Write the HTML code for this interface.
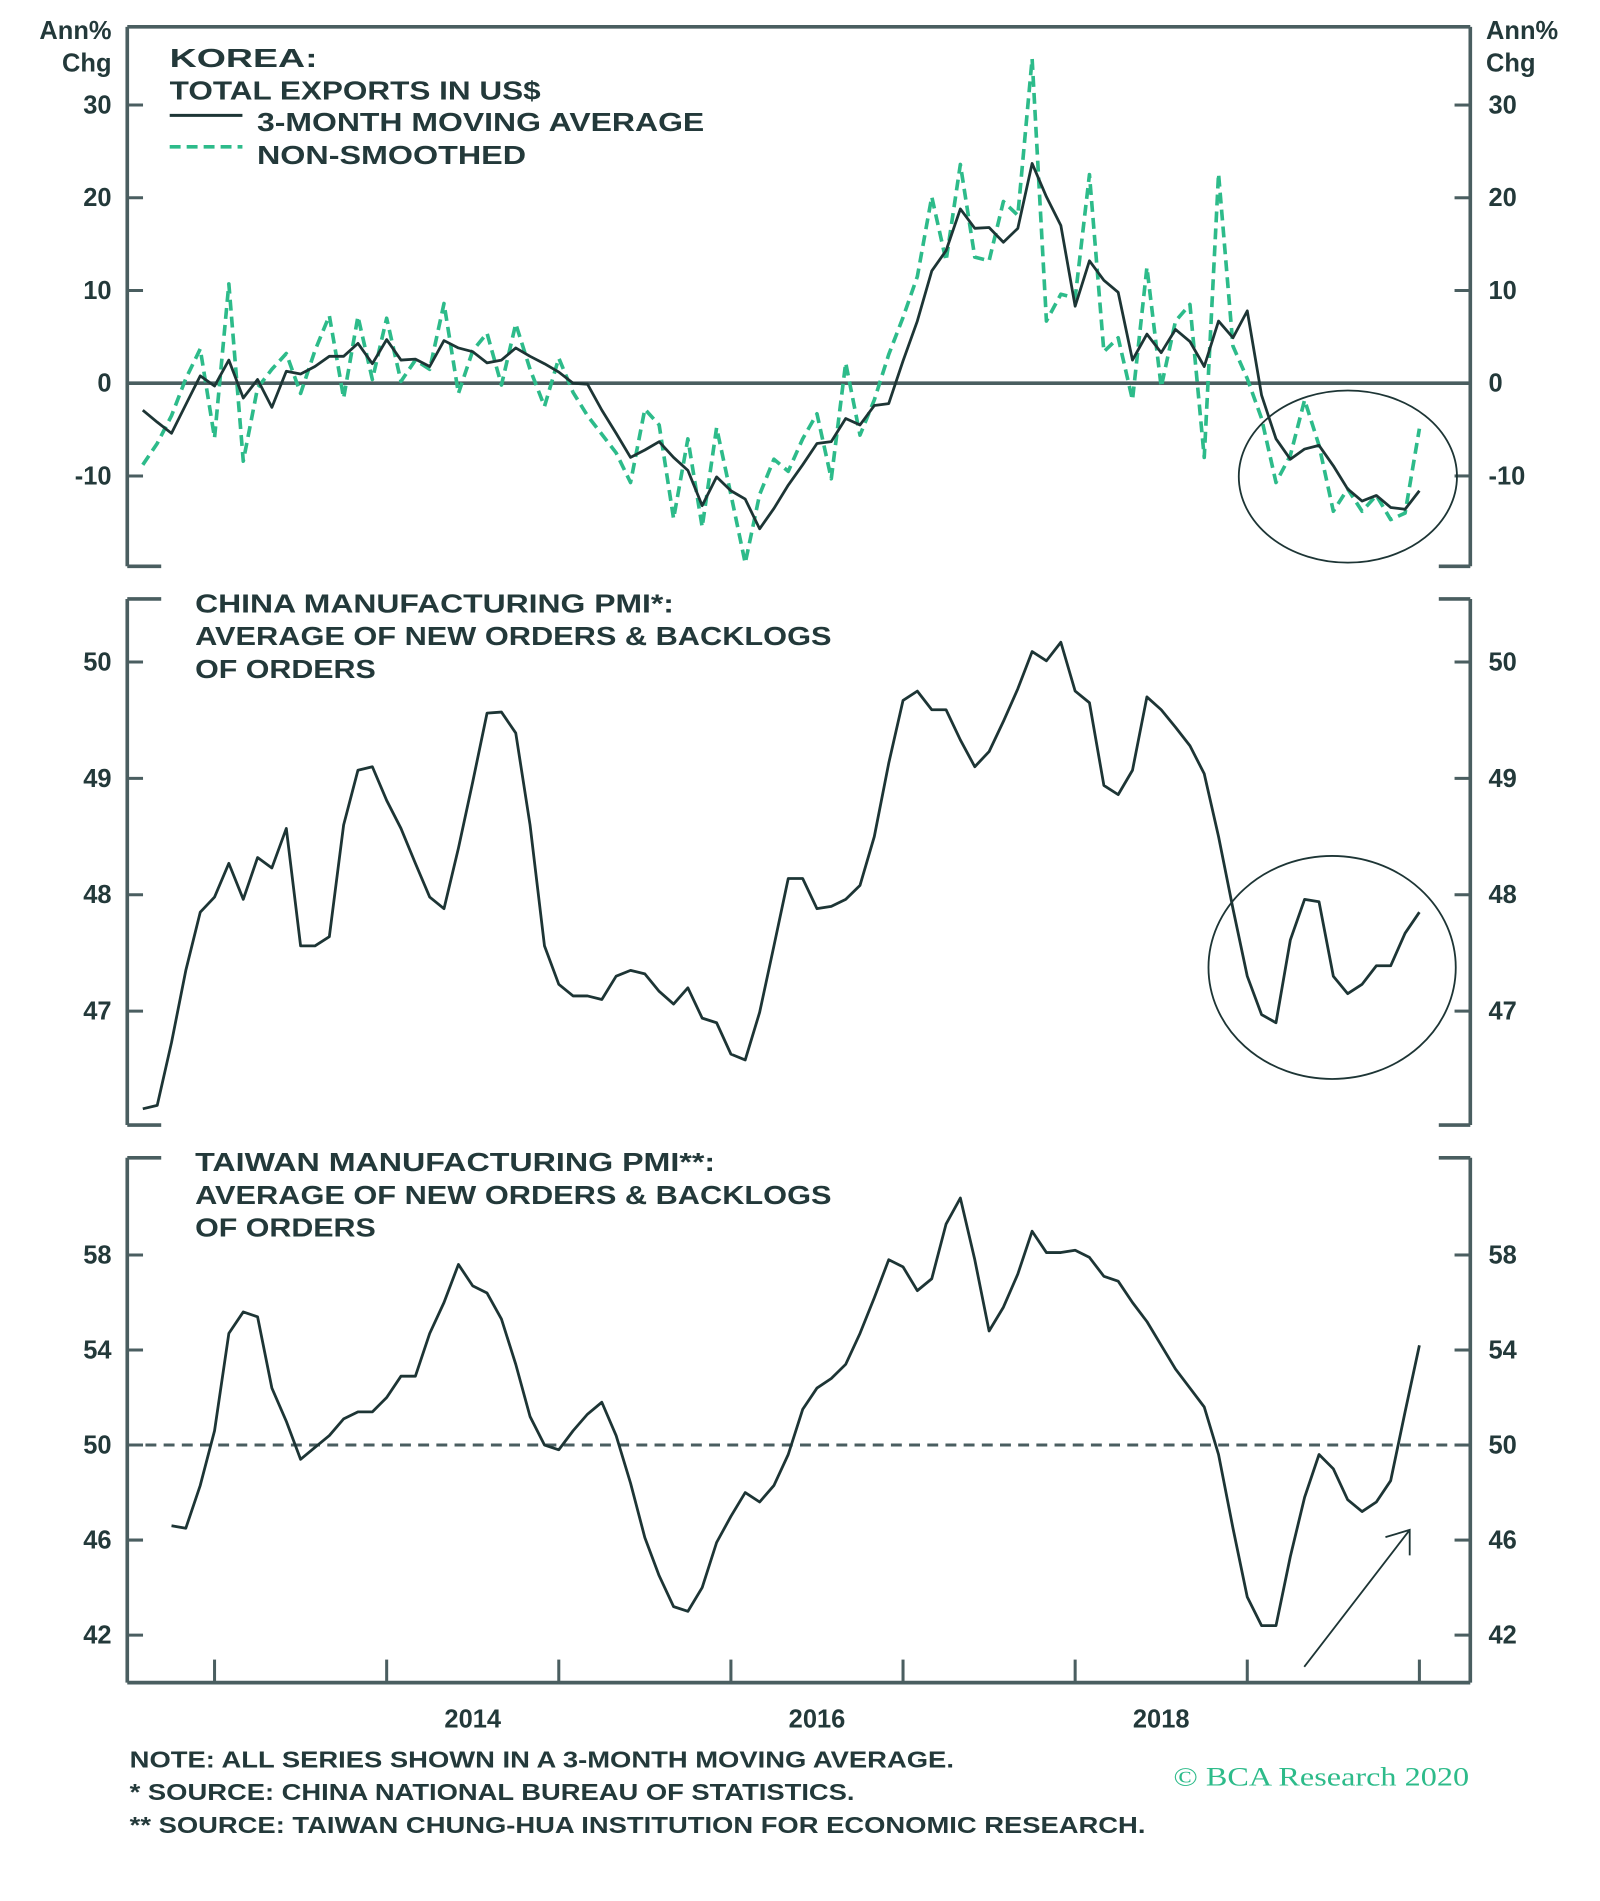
<!DOCTYPE html>
<html><head><meta charset="utf-8"><style>
html,body{margin:0;padding:0;background:#fff;}
svg{display:block;}
text{font-family:"Liberation Sans",sans-serif;fill:#23393a;font-weight:bold;}
</style></head><body>
<svg id="chart" width="1600" height="1901" viewBox="0 0 1320 1568" xmlns="http://www.w3.org/2000/svg">
<g id="frame"></g>
<g id="marks"></g>
<g id="labels">
  <text x="92" y="32" text-anchor="end" font-size="21">Ann%</text>
  <text x="92" y="59" text-anchor="end" font-size="21">Chg</text>
  <text x="1226" y="32" font-size="21">Ann%</text>
  <text x="1226" y="59" font-size="21">Chg</text>
  <text x="140" y="55" font-size="21" textLength="122" lengthAdjust="spacingAndGlyphs">KOREA:</text>
  <text x="140" y="82" font-size="21" textLength="306" lengthAdjust="spacingAndGlyphs">TOTAL EXPORTS IN US$</text>
  <line x1="140" y1="95" x2="200" y2="95" stroke="#1d3535" stroke-width="2.5"/>
  <text x="212" y="108" font-size="21" textLength="369" lengthAdjust="spacingAndGlyphs">3-MONTH MOVING AVERAGE</text>
  <line x1="140" y1="121" x2="200" y2="121" stroke="#2dbb8a" stroke-width="3" stroke-dasharray="9,5"/>
  <text x="212" y="135" font-size="21" textLength="222" lengthAdjust="spacingAndGlyphs">NON-SMOOTHED</text>
  <text x="161" y="505" font-size="21" textLength="395" lengthAdjust="spacingAndGlyphs">CHINA MANUFACTURING PMI*:</text>
  <text x="161" y="532" font-size="21" textLength="525" lengthAdjust="spacingAndGlyphs">AVERAGE OF NEW ORDERS &amp; BACKLOGS</text>
  <text x="161" y="559" font-size="21" textLength="149" lengthAdjust="spacingAndGlyphs">OF ORDERS</text>
  <text x="161" y="966" font-size="21" textLength="429" lengthAdjust="spacingAndGlyphs">TAIWAN MANUFACTURING PMI**:</text>
  <text x="161" y="993" font-size="21" textLength="525" lengthAdjust="spacingAndGlyphs">AVERAGE OF NEW ORDERS &amp; BACKLOGS</text>
  <text x="161" y="1020" font-size="21" textLength="149" lengthAdjust="spacingAndGlyphs">OF ORDERS</text>
  <text x="107" y="1458" font-size="19" textLength="680" lengthAdjust="spacingAndGlyphs">NOTE: ALL SERIES SHOWN IN A 3-MONTH MOVING AVERAGE.</text>
  <text x="107" y="1485" font-size="19" textLength="598" lengthAdjust="spacingAndGlyphs">*  SOURCE: CHINA NATIONAL BUREAU OF STATISTICS.</text>
  <text x="107" y="1512" font-size="19" textLength="838" lengthAdjust="spacingAndGlyphs">** SOURCE: TAIWAN CHUNG-HUA INSTITUTION FOR ECONOMIC RESEARCH.</text>
  <text x="968" y="1473" font-size="22" font-weight="normal" style="font-family:'Liberation Serif',serif;fill:#2dbb8a;font-weight:normal" textLength="244" lengthAdjust="spacingAndGlyphs">© BCA Research 2020</text>
</g>
</svg>
<script>
const months = [];
const koreaSmoothed = [-2.9,-4.2,-5.4,-2.3,0.8,-0.3,2.5,-1.6,0.4,-2.6,1.3,1.0,1.8,2.9,2.9,4.3,2.1,4.7,2.5,2.6,1.8,4.6,3.8,3.4,2.2,2.5,3.8,2.9,2.1,1.2,0,-0.1,-2.9,-5.4,-8.0,-7.2,-6.3,-8.0,-9.4,-13.2,-10.1,-11.6,-12.5,-15.7,-13.5,-11.0,-8.8,-6.5,-6.3,-3.8,-4.5,-2.4,-2.2,2.4,6.7,12.1,14.3,18.8,16.7,16.8,15.2,16.7,23.7,20.1,17.0,8.3,13.2,11.1,9.8,2.5,5.3,3.3,5.8,4.5,1.8,6.7,4.9,7.8,-1.3,-6.0,-8.2,-7.1,-6.7,-8.9,-11.4,-12.7,-12.1,-13.4,-13.6,-11.6];
const koreaRaw = [-8.8,-6.5,-3.5,0.5,3.7,-5.9,10.7,-8.4,-0.5,1.5,3.2,-1.1,3.5,7.3,-1.6,7.2,0.4,7.0,0.2,2.5,1.5,8.6,-1.1,3.5,5.4,-0.2,6.4,1.5,-2.5,2.7,-1.0,-3.5,-5.5,-7.5,-10.7,-2.8,-4.5,-14.6,-6.0,-15.5,-4.8,-12.0,-19.4,-12.0,-8.2,-9.5,-6.0,-3.3,-10.3,2.2,-5.6,-1.8,3.1,7.1,11.5,20.1,13.2,23.6,13.6,13.2,19.6,18.1,35.0,6.7,9.6,9.2,22.5,3.4,4.9,-1.8,12.5,-0.4,6.7,8.5,-8.0,22.6,4.0,0.5,-3.8,-10.7,-7.8,-1.8,-6.7,-13.8,-11.4,-13.8,-12.1,-14.7,-14.0,-4.9];
const chinaPmi = [46.16,46.19,46.73,47.35,47.85,47.98,48.27,47.96,48.32,48.23,48.57,47.56,47.56,47.64,48.6,49.07,49.1,48.81,48.57,48.27,47.98,47.88,48.4,48.97,49.56,49.57,49.39,48.6,47.56,47.23,47.13,47.13,47.1,47.3,47.35,47.32,47.17,47.06,47.2,46.94,46.9,46.63,46.58,46.99,47.56,48.14,48.14,47.88,47.9,47.96,48.08,48.5,49.13,49.67,49.75,49.59,49.59,49.33,49.1,49.23,49.49,49.77,50.09,50.01,50.17,49.75,49.65,48.94,48.86,49.07,49.7,49.59,49.44,49.28,49.04,48.5,47.88,47.3,46.97,46.9,47.61,47.96,47.94,47.3,47.15,47.23,47.39,47.39,47.67,47.85];
const taiwanPmi = [null,null,46.6,46.5,48.3,50.6,54.7,55.6,55.4,52.4,51.0,49.4,49.9,50.4,51.1,51.4,51.4,52.0,52.9,52.9,54.7,56.0,57.6,56.7,56.4,55.3,53.4,51.2,50.0,49.8,50.6,51.3,51.8,50.4,48.4,46.1,44.5,43.2,43.0,44.0,45.9,47.0,48.0,47.6,48.3,49.6,51.5,52.4,52.8,53.4,54.7,56.2,57.8,57.5,56.5,57.0,59.3,60.4,57.8,54.8,55.8,57.2,59.0,58.1,58.1,58.2,57.9,57.1,56.9,56.0,55.2,54.2,53.2,52.4,51.6,49.6,46.5,43.6,42.4,42.4,45.3,47.8,49.6,49.0,47.7,47.2,47.6,48.5,51.4,54.2];
const koreaTicks = [30,20,10,0,-10];
const chinaTicks = [50,49,48,47];
const taiwanTicks = [58,54,50,46,42];
const yearTicks = [2013,2014,2015,2016,2017,2018,2019,2020];
const yearLabels = [2014,2016,2018];

const NS='http://www.w3.org/2000/svg';
const frame=document.getElementById('frame'), marks=document.getElementById('marks'), labels=document.getElementById('labels');
const L=105,R=1213, AX='#4a5e60';
// month index: 0 = Aug 2012
const x = i => 177 + (i-5)*142/12;
const xYear = yr => 177 + (yr-2013)*142;
const yK = v => 316 - v*7.65;
const yC = v => 546 - (v-50)*96;
const yT = v => 1192 - (v-50)*19.6;
function mk(tag,attrs,parent){const e=document.createElementNS(NS,tag);for(const k in attrs)e.setAttribute(k,attrs[k]);parent.appendChild(e);return e;}
function ln(x1,y1,x2,y2,parent,w,c){return mk('line',{x1,y1,x2,y2,stroke:c||AX,'stroke-width':w||3},parent);}

// Panel frames
let e;
e=ln(L,22,R,22,frame);  
[[22,467],[494,928],[955,1388]].forEach((p,k)=>{
  e=ln(L,p[0],L,p[1],frame);  
  e=ln(R,p[0],R,p[1],frame);  
  if(k>0){ln(L,p[0],133,p[0],frame);ln(1187,p[0],R,p[0],frame);}
  if(k<2){ln(L,p[1],133,p[1],frame);ln(1187,p[1],R,p[1],frame);}
});
e=ln(L,1388,R,1388,frame);  
e=ln(L,yK(0),R,yK(0),frame,3);  
e=ln(L,yT(50),R,yT(50),frame,2.5); e.setAttribute('stroke-dasharray','9,6');
 

function yTicks(ticks,fy,name){
  ticks.forEach(t=>{
    const y=fy(t);
    ln(L,y,118,y,frame,2.5); ln(1200,y,R,y,frame,2.5);
    let a=mk('text',{x:92,y:y+7,'text-anchor':'end','font-size':21},labels); a.textContent=t;
     
    let b=mk('text',{x:1228,y:y+7,'font-size':21},labels); b.textContent=t;
     
  });
}
yTicks(koreaTicks,yK,'korea'); yTicks(chinaTicks,yC,'china'); yTicks(taiwanTicks,yT,'taiwan');
yearTicks.forEach(yr=>{const t=ln(xYear(yr),1388,xYear(yr),1369,frame,2.5);
   });
yearLabels.forEach(yr=>{const t=mk('text',{x:xYear(yr)+71,y:1425,'text-anchor':'middle','font-size':21},labels);t.textContent=yr;
   });

function path(arr,fy,attrs,name){
  let d='',pen=false;
  arr.forEach((v,i)=>{ if(v==null){pen=false;return;} d+=(pen?'L':'M')+x(i).toFixed(1)+' '+fy(v).toFixed(1)+' '; pen=true;});
  const p=mk('path',Object.assign({d,fill:'none','stroke-linejoin':'round'},attrs),marks);
   
}
path(koreaRaw,yK,{stroke:'#2dbb8a','stroke-width':3,'stroke-dasharray':'9,5'},'korea-non-smoothed-line');
path(koreaSmoothed,yK,{stroke:'#1d3535','stroke-width':2.3},'korea-3mma-line');
path(chinaPmi,yC,{stroke:'#1d3535','stroke-width':2.3},'china-pmi-line');
path(taiwanPmi,yT,{stroke:'#1d3535','stroke-width':2.3},'taiwan-pmi-line');

e=mk('ellipse',{cx:1112,cy:393,rx:90,ry:71,fill:'none',stroke:'#1d3535','stroke-width':1.5},marks);
 
e=mk('ellipse',{cx:1099,cy:798,rx:102,ry:92,fill:'none',stroke:'#1d3535','stroke-width':1.5},marks);
 
e=mk('path',{d:'M1076 1375 L1163 1262 M1143 1268 L1163 1262 L1163 1283',fill:'none',stroke:'#1d3535','stroke-width':1.5},marks);
 
</script>
</body></html>
